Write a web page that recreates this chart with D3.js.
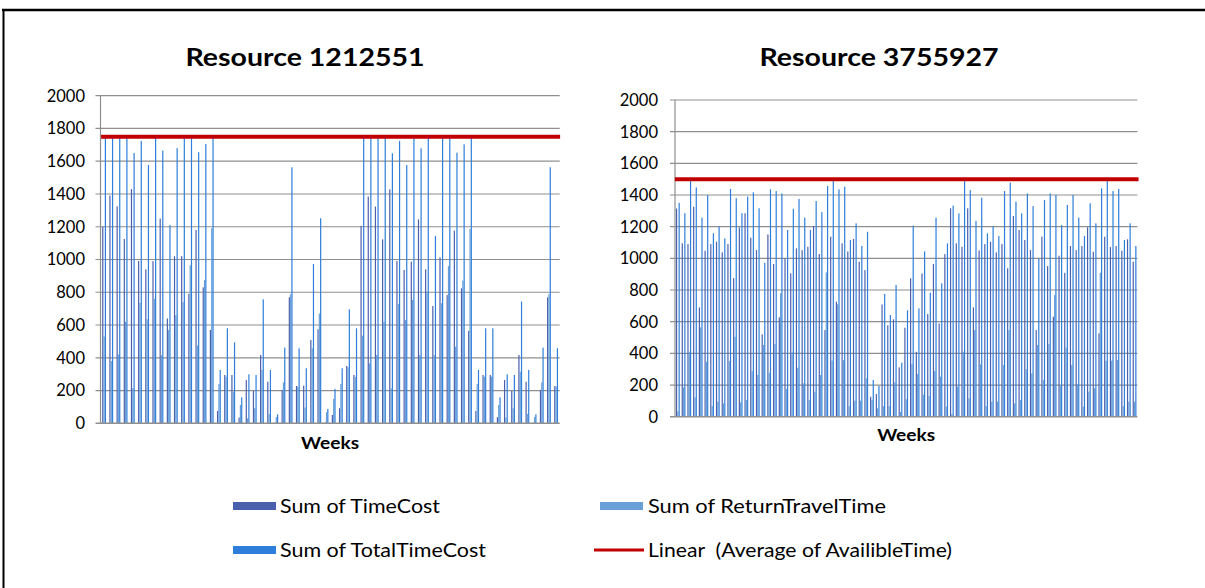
<!DOCTYPE html>
<html><head><meta charset="utf-8">
<script src="https://cdn.jsdelivr.net/npm/d3@7/dist/d3.min.js"></script>
<style>body{margin:0;background:#fff}svg{display:block}</style>
</head><body><svg id="c" width="1205" height="588"></svg>
<script>
// ---------- data ----------
const seriesNames = ["Sum of TimeCost", "Sum of ReturnTravelTime", "Sum of TotalTimeCost"];
const trendName = "Linear  (Average of AvailibleTime)";
const yTicks = [0, 200, 400, 600, 800, 1000, 1200, 1400, 1600, 1800, 2000];

const leftTitle = "Resource 1212551";
const leftWeeks = d3.range(1, 65).map(String);
const leftTimeCost = [1200,1390,1325,1125,1430,991,940,990,1250,640,1020,1020,790,1180,830,570,
  75,295,295,35,264,197,417,254,4,204,769,228,230,509,574,6,51,92,350,295,
  1205,1384,1323,1123,1428,991,936,987,1245,940,716,1013,783,1176,824,564,
  75,295,295,37,264,197,417,254,4,204,769,228];
const leftReturnTravel = [530,380,420,620,214,735,635,760,415,570,660,740,965,475,875,1190,
  240,285,193,112,30,92,326,57,39,250,788,224,96,458,670,67,149,240,342,283,
  535,366,417,620,214,729,631,753,417,804,417,733,960,468,871,1186,
  240,285,285,112,35,92,315,57,39,250,788,224];
const leftTotal = [1740,1740,1740,1740,1650,1724,1577,1740,1665,1210,1680,1740,1740,1655,1705,1740,
  326,580,494,159,299,295,757,326,55,462,1563,458,336,973,1252,88,210,336,696,580,
  1740,1740,1740,1740,1648,1724,1577,1740,1679,1740,1144,1740,1740,1652,1703,1740,
  326,580,580,159,299,295,743,326,55,462,1563,458];
const leftAvailable = 1750;

const rightTitle = "Resource 3755927";
const rightWeeks = d3.range(1, 82).map(String);
const rightTimeCost = [1315,1095,1090,1326,690,1048,1090,1105,1038,1090,
  875,1195,1285,1130,1052,520,1151,964,627,1000,
  905,1063,1052,1073,1204,1027,547,1137,726,1095,
  1044,1122,979,926,126,143,709,577,615,312,
  562,874,410,905,648,964,589,1027,1316,1095,
  1073,1316,690,1050,1090,1105,1038,1090,937,1267,
  1179,1116,1052,547,1137,951,631,1017,909,1078,
  1052,1078,1196,1042,526,1137,1071,1078,1048,1120,979];
const rightReturnTravel = [35,185,410,122,564,347,67,95,84,352,
  505,90,105,288,264,453,278,459,779,175,
  406,309,210,105,158,263,911,354,710,357,
  67,101,101,242,105,53,67,67,217,30,
  110,333,269,139,130,288,253,63,17,189,
  410,116,547,330,67,95,95,326,547,84,
  105,299,274,453,232,459,768,193,436,326,
  205,63,158,179,909,354,354,358,67,95,95];
const rightTotal = [1350,1285,1490,1448,1257,1400,1158,1200,1126,1438,
  1380,1285,1390,1417,1316,972,1436,1425,1410,1179,
  1313,1375,1257,1179,1362,1292,1457,1488,1436,1452,
  1116,1221,1078,1168,232,194,775,642,832,341,
  672,1207,684,1044,783,1257,842,1095,1333,1284,
  1490,1431,1236,1383,1158,1204,1141,1425,1478,1358,
  1284,1410,1330,1000,1368,1410,1400,1210,1337,1400,
  1257,1141,1347,1221,1442,1490,1425,1438,1116,1221,1078];
const rightAvailable = 1500;

// ---------- styles ----------
const colors = ["#4b60ad", "#6aa0d7", "#2d7fdb"];
const trendColor = "#c00000";
const gridColor = "#8f8f8f";
const FONT = "Lato, 'Open Sans', sans-serif";

const svg = d3.select("#c");

// frame (cropped screenshot border)
svg.append("line").attr("x1", 2).attr("x2", 1205).attr("y1", 10).attr("y2", 10)
  .attr("stroke", "#000").attr("stroke-width", 2.5);
svg.append("line").attr("x1", 3.5).attr("x2", 3.5).attr("y1", 9).attr("y2", 588)
  .attr("stroke", "#000").attr("stroke-width", 2);

function drawChart(cfg) {
  const g = svg.append("g");
  const x0 = d3.scaleBand().domain(cfg.weeks).range([cfg.left, cfg.right])
    .paddingInner(cfg.pad).paddingOuter(cfg.pad / 2);
  const x1 = d3.scaleBand().domain(seriesNames).range([0, x0.bandwidth()]).padding(0.08);
  const y = d3.scaleLinear().domain([0, 2000]).range([cfg.bottom, cfg.top]);

  // gridlines
  g.selectAll("line.grid").data(yTicks.filter(v => v > 0)).join("line")
    .attr("x1", cfg.left - 5).attr("x2", cfg.right)
    .attr("y1", d => y(d)).attr("y2", d => y(d))
    .attr("stroke", gridColor).attr("stroke-width", 1.2);

  // tick labels
  g.selectAll("text.tick").data(yTicks).join("text")
    .attr("x", cfg.labelX).attr("y", d => y(d)).attr("dy", "0.36em")
    .attr("text-anchor", "end").attr("font-family", FONT).attr("font-size", 16.5)
    .attr("fill", "#000").text(d => d);

  // bars
  const rows = cfg.weeks.map((w, i) => ({ w, vals: [cfg.tc[i], cfg.rt[i], cfg.tt[i]] }));
  const cat = g.selectAll("g.cat").data(rows).join("g")
    .attr("transform", d => `translate(${x0(d.w)},0)`);
  cat.selectAll("rect").data(d => d.vals.map((v, k) => ({ k, v }))).join("rect")
    .attr("x", d => x1(seriesNames[d.k])).attr("width", x1.bandwidth())
    .attr("y", d => y(d.v)).attr("height", d => cfg.bottom - y(d.v))
    .attr("fill", d => colors[d.k]);

  // axis lines
  g.append("line").attr("x1", cfg.left).attr("x2", cfg.left)
    .attr("y1", cfg.top).attr("y2", cfg.bottom).attr("stroke", gridColor).attr("stroke-width", 1.2);
  g.append("line").attr("x1", cfg.left - 5).attr("x2", cfg.right)
    .attr("y1", cfg.bottom).attr("y2", cfg.bottom).attr("stroke", gridColor).attr("stroke-width", 1.4);

  // trend line (average of available time)
  const first = cfg.weeks[0], last = cfg.weeks[cfg.weeks.length - 1];
  g.append("line")
    .attr("x1", x0(first) + x0.bandwidth() / 2 - 1).attr("x2", x0(last) + x0.bandwidth() / 2 + 2)
    .attr("y1", y(cfg.avail)).attr("y2", y(cfg.avail))
    .attr("stroke", trendColor).attr("stroke-width", 4).attr("stroke-linecap", "square");

  // title
  g.append("text").attr("x", cfg.titleX).attr("y", 66).attr("text-anchor", "middle")
    .attr("font-family", FONT).attr("font-weight", "bold").attr("font-size", 25)
    .attr("textLength", 239).attr("lengthAdjust", "spacingAndGlyphs")
    .attr("fill", "#000").text(cfg.title);
  // x axis title
  g.append("text").attr("x", (cfg.left + cfg.right) / 2).attr("y", cfg.weeksY).attr("text-anchor", "middle")
    .attr("font-family", FONT).attr("font-weight", "bold").attr("font-size", 17)
    .attr("textLength", 58).attr("lengthAdjust", "spacingAndGlyphs")
    .attr("fill", "#000").text("Weeks");
}

drawChart({ weeks: leftWeeks, tc: leftTimeCost, rt: leftReturnTravel, tt: leftTotal, avail: leftAvailable,
  left: 100.5, right: 559.7, top: 95.7, bottom: 423.3, pad: 0.44, labelX: 85,
  title: leftTitle, titleX: 305, weeksY: 449 });
drawChart({ weeks: rightWeeks, tc: rightTimeCost, rt: rightReturnTravel, tt: rightTotal, avail: rightAvailable,
  left: 675, right: 1137.4, top: 100, bottom: 416.7, pad: 0.3, labelX: 658,
  title: rightTitle, titleX: 879, weeksY: 441 });

// ---------- legend ----------
const legendItems = [
  { name: seriesNames[0], type: "rect", color: colors[0], sx: 233, tx: 280, cy: 506, w: 160 },
  { name: seriesNames[1], type: "rect", color: colors[1], sx: 600, tx: 648, cy: 506, w: 238 },
  { name: seriesNames[2], type: "rect", color: colors[2], sx: 233, tx: 280, cy: 550, w: 206 },
  { name: trendName, type: "line", color: trendColor, sx: 594, tx: 648, cy: 550, w: 304 }
];
const lg = svg.append("g");
legendItems.forEach(it => {
  if (it.type === "rect") {
    lg.append("rect").attr("x", it.sx).attr("y", it.cy - 4).attr("width", 43).attr("height", 8)
      .attr("fill", it.color);
  } else {
    lg.append("line").attr("x1", it.sx).attr("x2", 644).attr("y1", it.cy).attr("y2", it.cy)
      .attr("stroke", it.color).attr("stroke-width", 3);
  }
  lg.append("text").attr("x", it.tx).attr("y", it.cy).attr("dy", "0.36em")
    .attr("font-family", FONT).attr("font-size", 19).attr("fill", "#000")
    .attr("textLength", it.w).attr("lengthAdjust", "spacingAndGlyphs")
    .attr("xml:space", "preserve").style("white-space", "pre").text(it.name);
});
</script></body></html>
